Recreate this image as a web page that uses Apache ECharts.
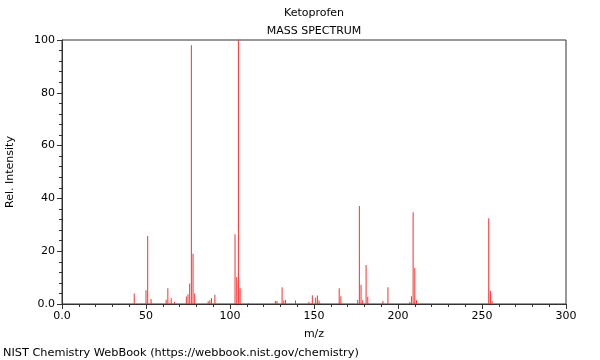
<!DOCTYPE html>
<html><head><meta charset="utf-8">
<script src="https://cdn.jsdelivr.net/npm/echarts@6/dist/echarts.min.js"></script>
<style>html,body{margin:0;padding:0;background:#fff}#c{width:600px;height:360px}</style>
</head><body><div id="c"></div>
<script>
var mz = [43,50,51,53,62,63,65,67,74,75,76,77,78,79,87,88,89,91,103,104,105,106,111,127,128,131,132,133,139,147,149,151,152,153,165,166,176,177,178,179,181,182,191,194,207,208,209,210,211,254,255,256];
var intensity = [4,5.2,25.8,1.9,1.6,6,2.2,0.8,2.8,3.7,7.8,98,19,4,1,1.4,2.3,3.5,26.4,10.2,100,6,0.3,1.1,1.1,6.3,1.3,1.5,1.3,0.8,3.3,2.4,3.2,1.3,6,2.9,1.5,37.1,7.3,1.4,14.8,2.7,1.1,6.3,0.8,2.9,34.8,13.6,1.4,32.5,5,1];
var xTicks = [0,50,100,150,200,250,300];
var yTicks = [0,20,40,60,80,100];
var data = mz.map(function(m,i){return [m,intensity[i]];});
var font = 'DejaVu Sans';
var chart = echarts.init(document.getElementById('c'), null, {renderer:'canvas'});
chart.setOption({
  animation:false,
  textStyle:{fontFamily:font},
  title:[
    {text:'Ketoprofen', left:314, top:8, padding:0, textAlign:'center', textStyle:{fontSize:11, fontWeight:'normal', color:'#000', fontFamily:font}},
    {text:'MASS SPECTRUM', left:314, top:26, padding:0, textAlign:'center', textStyle:{fontSize:11, fontWeight:'normal', color:'#000', fontFamily:font}},
    {text:'NIST Chemistry WebBook (https://webbook.nist.gov/chemistry)', left:3, top:348, padding:0, textStyle:{fontSize:11.3, fontWeight:'normal', color:'#000', fontFamily:font}}
  ],
  grid:{left:62, right:34, top:40, bottom:56, containLabel:false, outerBoundsMode:'none', show:true, borderColor:'#333', borderWidth:1, backgroundColor:'transparent'},
  xAxis:{type:'value', min:xTicks[0], max:xTicks[xTicks.length-1], interval:50,
    name:'m/z', nameLocation:'middle', nameGap:25, nameTextStyle:{fontSize:11, color:'#000', fontFamily:font},
    axisLine:{show:true, lineStyle:{color:'#333'}},
    axisTick:{show:true, length:5, lineStyle:{color:'#333'}},
    minorTick:{show:true, splitNumber:5, length:3, lineStyle:{color:'#333'}},
    splitLine:{show:false},
    axisLabel:{fontSize:11, color:'#000', margin:7, fontFamily:font, formatter:function(v){return v===0?'0.0':String(v);}}
  },
  yAxis:{type:'value', min:yTicks[0], max:yTicks[yTicks.length-1], interval:20,
    name:'Rel. Intensity', nameLocation:'middle', nameGap:46, nameRotate:90, nameTextStyle:{fontSize:11, color:'#000', fontFamily:font},
    axisLine:{show:true, lineStyle:{color:'#333'}},
    axisTick:{show:true, length:5, lineStyle:{color:'#333'}},
    minorTick:{show:true, splitNumber:5, length:3, lineStyle:{color:'#333'}},
    splitLine:{show:false},
    axisLabel:{fontSize:11, color:'#000', margin:7, fontFamily:font, formatter:function(v){return v===0?'0.0':String(v);}}
  },
  series:[{type:'bar', data:data, barWidth:1, itemStyle:{color:'rgb(255,45,45)'}, silent:true}]
});
</script></body></html>
